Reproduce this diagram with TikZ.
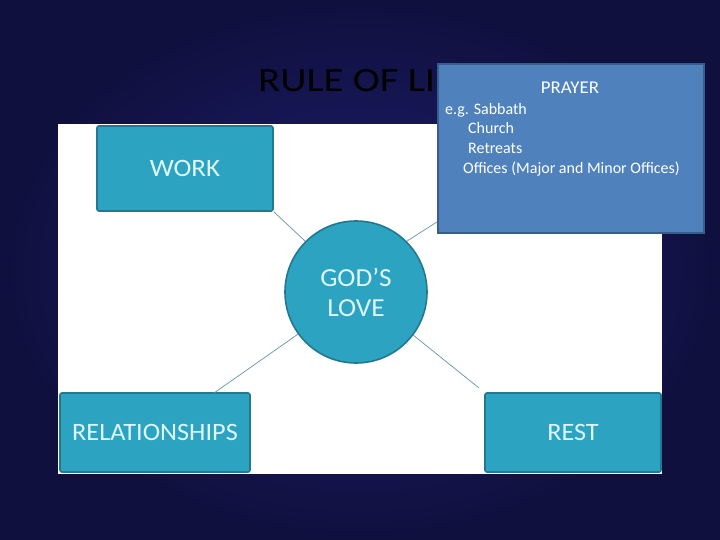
\documentclass[tikz,border=0pt]{standalone}
\usepackage{fontspec}
\setmainfont{Carlito}
\usepackage{graphicx}
\definecolor{bgin}{RGB}{30,30,115}
\definecolor{bgout}{RGB}{16,16,62}
\definecolor{tealfill}{RGB}{44,163,193}
\definecolor{tealdraw}{RGB}{34,120,145}
\definecolor{tealtext}{RGB}{222,247,255}
\definecolor{linkcol}{RGB}{100,150,165}
\definecolor{prayfill}{RGB}{79,129,189}
\definecolor{praydraw}{RGB}{56,93,138}
\tikzset{
  boxnode/.style={draw=tealdraw, line width=1.6pt, fill=tealfill, rounded corners=2pt,
    text=tealtext, inner sep=0pt, font=\fontsize{25}{28}\selectfont},
  link/.style={draw=linkcol, line width=0.7pt},
  praytext/.style={text=white, inner sep=0pt, anchor=base west, font=\fontsize{16}{19}\selectfont}
}
\begin{document}
\begin{tikzpicture}[x=1pt,y=-1pt]
\useasboundingbox (0,0) rectangle (720,540);
\shade[inner color=bgin, outer color=bgout] (0,0) rectangle (720,540);
% title
\node[anchor=base west, inner sep=0pt, text=black, font=\fontsize{34}{40}\selectfont] (title) at (258,92) {\scalebox{1.2}[1]{RULE OF LIFE}};
% white panel
\fill[white] (58,124) rectangle (662,474);
% nodes
\node[boxnode, minimum width=176, minimum height=85] (work) at (185,168.5) {\scalebox{1.08}[1]{WORK}};
\node[boxnode, minimum width=190, minimum height=79] (rel) at (155,432.5) {\scalebox{1.05}[1]{RELATIONSHIPS}};
\node[boxnode, minimum width=176, minimum height=79] (rest) at (573,432.5) {\scalebox{1.05}[1]{REST}};
\node[boxnode, circle, minimum size=142, rounded corners=0pt, align=center,
  font=\fontsize{26}{31}\selectfont] (god) at (356,292) {\scalebox{1.05}[1]{GOD'S}\\[-1pt]\scalebox{1.05}[1]{LOVE}};
% connectors
\coordinate (prayend) at (440,220);
\coordinate (restend) at (479,388);
\coordinate (relend) at (214,393);
\draw[link] (god.135) -- (work.south east);
\draw[link] (god.45) -- (prayend);
\draw[link] (god.216) -- (relend);
\draw[link] (god.-37) -- (restend);
% prayer box
\node[draw=praydraw, line width=2pt, fill=prayfill, minimum width=266, minimum height=169, inner sep=0pt] (prayer) at (571,148.5) {};
\node[text=white, inner sep=0pt, anchor=base, font=\fontsize{18}{21}\selectfont] (ptitle) at (570,94) {\scalebox{1.05}[1]{PRAYER}};
\node[praytext] (p1) at (445,115) {e.g. Sabbath};
\node[praytext] (p2) at (468,134) {Church};
\node[praytext] (p3) at (468,154) {Retreats};
\node[praytext] (p4) at (463,174) {Offices (Major and Minor Offices)};
\end{tikzpicture}
\end{document}
